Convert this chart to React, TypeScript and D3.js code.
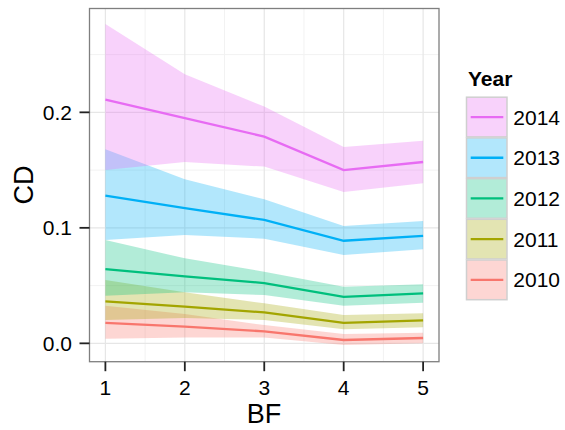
import React from "react";
import * as d3 from "d3";

const bf = [1, 2, 3, 4, 5];
const years = ["2010", "2011", "2012", "2013", "2014"];
const colors = ["#F8766D", "#A3A500", "#00BF7D", "#00B0F6", "#E76BF3"];

const fit2010 = [0.0178, 0.0144, 0.0104, 0.0029, 0.0046];
const upper2010 = [0.0326, 0.0254, 0.0158, 0.0081, 0.0092];
const lower2010 = [0.004, 0.005, 0.005, -0.0015, 0.0];

const fit2011 = [0.0364, 0.0317, 0.0268, 0.0178, 0.0199];
const upper2011 = [0.0548, 0.0442, 0.0346, 0.0245, 0.026];
const lower2011 = [0.0202, 0.0219, 0.0202, 0.0121, 0.0139];

const fit2012 = [0.0643, 0.058, 0.0522, 0.0403, 0.0433];
const upper2012 = [0.0894, 0.0736, 0.062, 0.049, 0.0511];
const lower2012 = [0.0412, 0.0442, 0.0418, 0.0326, 0.0352];

const fit2013 = [0.1278, 0.117, 0.1068, 0.0888, 0.093];
const upper2013 = [0.168, 0.142, 0.1247, 0.1016, 0.1059];
const lower2013 = [0.0894, 0.0938, 0.0906, 0.0765, 0.0814];

const fit2014 = [0.211, 0.195, 0.179, 0.15, 0.157];
const upper2014 = [0.2765, 0.233, 0.205, 0.17, 0.1755];
const lower2014 = [0.15, 0.157, 0.153, 0.131, 0.1385];

const fits = [fit2010, fit2011, fit2012, fit2013, fit2014];
const uppers = [upper2010, upper2011, upper2012, upper2013, upper2014];
const lowers = [lower2010, lower2011, lower2012, lower2013, lower2014];

const xTicks = [1, 2, 3, 4, 5];
const xMinor = [1.5, 2.5, 3.5, 4.5];
const yTicks = [0, 0.1, 0.2];
const yMinor = [0.05, 0.15, 0.25];

const W = 565;
const H = 430;
const panel = { left: 89.5, right: 439, top: 8.5, bottom: 361.7 };
const font = "'Liberation Sans', Arial, Helvetica, sans-serif";

export default function App() {
  const x = d3.scaleLinear().domain([0.8, 5.2]).range([panel.left, panel.right]);
  const y = d3.scaleLinear().domain([-0.0159, 0.2899]).range([panel.bottom, panel.top]);

  const area = (lo: number[], hi: number[]) =>
    d3
      .area<number>()
      .x((d) => x(d))
      .y0((_, i) => y(lo[i]))
      .y1((_, i) => y(hi[i]))(bf) || "";
  const line = (v: number[]) =>
    d3
      .line<number>()
      .x((d) => x(d))
      .y((_, i) => y(v[i]))(bf) || "";

  const legendYears = years.map((yr, i) => ({ yr, i })).reverse();
  const keyTop = 96.7;
  const keyH = 40.7;

  return (
    <svg
      width={W}
      height={H}
      style={{ position: "absolute", left: 0, top: 0, background: "#fff" }}
      fontFamily={font}
    >
      <rect x={0} y={0} width={W} height={H} fill="#fff" />
      {/* grid */}
      {xMinor.map((t) => (
        <line key={"xm" + t} x1={x(t)} x2={x(t)} y1={panel.top} y2={panel.bottom} stroke="#f2f2f2" strokeWidth={1} />
      ))}
      {yMinor.map((t) => (
        <line key={"ym" + t} x1={panel.left} x2={panel.right} y1={y(t)} y2={y(t)} stroke="#f2f2f2" strokeWidth={1} />
      ))}
      {xTicks.map((t) => (
        <line key={"xg" + t} x1={x(t)} x2={x(t)} y1={panel.top} y2={panel.bottom} stroke="#e6e6e6" strokeWidth={1.2} />
      ))}
      {yTicks.map((t) => (
        <line key={"yg" + t} x1={panel.left} x2={panel.right} y1={y(t)} y2={y(t)} stroke="#e6e6e6" strokeWidth={1.2} />
      ))}
      {/* series */}
      {years.map((yr, i) => (
        <g key={yr}>
          <path d={area(lowers[i], uppers[i])} fill={colors[i]} fillOpacity={0.3} stroke="none" />
          <path d={line(fits[i])} fill="none" stroke={colors[i]} strokeWidth={2.3} />
        </g>
      ))}
      {/* panel border */}
      <rect
        x={panel.left}
        y={panel.top}
        width={panel.right - panel.left}
        height={panel.bottom - panel.top}
        fill="none"
        stroke="#7f7f7f"
        strokeWidth={1.3}
      />
      {/* axes */}
      {xTicks.map((t) => (
        <g key={"xt" + t}>
          <line x1={x(t)} x2={x(t)} y1={panel.bottom} y2={panel.bottom + 9.5} stroke="#222" strokeWidth={1.8} />
          <text x={x(t)} y={395} textAnchor="middle" fontSize={21} fill="#000">
            {d3.format("d")(t)}
          </text>
        </g>
      ))}
      {yTicks.map((t) => (
        <g key={"yt" + t}>
          <line x1={panel.left - 10} x2={panel.left} y1={y(t)} y2={y(t)} stroke="#222" strokeWidth={1.8} />
          <text x={72} y={y(t) + 7.4} textAnchor="end" fontSize={21} fill="#000">
            {d3.format(".1f")(t)}
          </text>
        </g>
      ))}
      <text x={264} y={423.3} textAnchor="middle" fontSize={27} fill="#000">
        BF
      </text>
      <text
        transform={`translate(33.3, ${(panel.top + panel.bottom) / 2}) rotate(-90)`}
        textAnchor="middle"
        fontSize={27}
        fill="#000"
      >
        CD
      </text>
      {/* legend */}
      <text x={468} y={86} fontSize={21} fontWeight="bold" fill="#000">
        Year
      </text>
      {legendYears.map(({ yr, i }, k) => {
        const top = keyTop + k * keyH;
        const mid = top + keyH / 2;
        return (
          <g key={"lg" + yr}>
            <rect x={466} y={top} width={41.5} height={keyH} fill="#fff" stroke="none" />
            <rect x={466.5} y={top + 0.5} width={40.5} height={keyH - 1} fill={colors[i]} fillOpacity={0.3} stroke="#cfcfcf" strokeWidth={1.5} />
            <line x1={470.7} x2={503.3} y1={mid} y2={mid} stroke={colors[i]} strokeWidth={2.3} />
            <text x={513.3} y={mid + 7.5} fontSize={21} fill="#000">
              {yr}
            </text>
          </g>
        );
      })}
    </svg>
  );
}
